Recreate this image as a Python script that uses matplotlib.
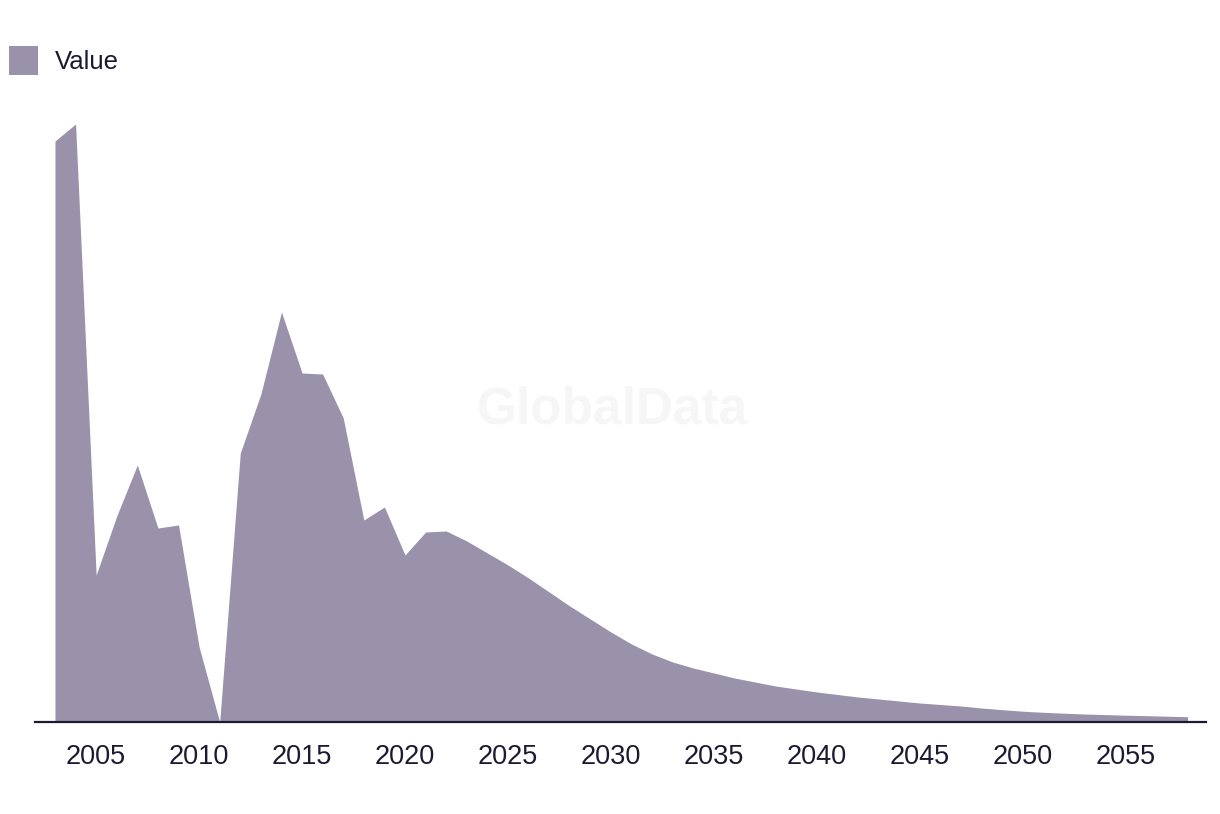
from matplotlib import pyplot as plt
from matplotlib.patches import Patch
import numpy as np

# Data (no y axis shown, values are relative heights)
years = np.arange(2003, 2059)
values = [
    581, 598, 147, 206, 257, 194, 197, 75, 0, 269,
    328, 410, 349, 348, 304, 202, 215, 167, 190, 191,
    181, 169, 157, 144, 130, 116, 103, 90, 78, 68,
    60, 54, 49, 44, 40, 36, 33, 30, 27.5, 25,
    23, 21, 19, 17.5, 16, 14, 12.3, 10.8, 9.7, 8.8,
    8.0, 7.4, 6.8, 6.3, 5.8, 5.3,
]
tick_years = list(range(2005, 2060, 5))
series_name = "Value"

fill_color = "#9a92aa"
text_color = "#1c1a30"


def main():
    plt.rcParams["font.family"] = ["Liberation Sans", "DejaVu Sans"]

    fig = plt.figure(figsize=(12.2, 8.14), dpi=100)
    ax = fig.add_axes([35 / 1220, 92 / 814, 1171 / 1220, 622 / 814])

    ax.fill_between(years, values, 0, color=fill_color, linewidth=0)

    ax.set_xlim(2002.03, 2058.9)
    ax.set_ylim(0, 622)

    # Only the bottom axis line is visible
    for side in ["left", "right", "top"]:
        ax.spines[side].set_visible(False)
    ax.spines["bottom"].set_color(text_color)
    ax.spines["bottom"].set_linewidth(1.6)
    ax.set_yticks([])
    ax.set_xticks(tick_years)
    ax.set_xticklabels([str(y) for y in tick_years])
    ax.tick_params(axis="x", length=0, pad=15.5, labelsize=19.5, labelcolor=text_color)

    # Faint watermark
    fig.text(0.502, 0.496, "GlobalData", ha="center", va="center",
             fontsize=37, fontweight="bold", color="#f6f6f6", zorder=0)

    # Legend at the top left
    handle = Patch(facecolor=fill_color, edgecolor="none")
    fig.legend([handle], [series_name], loc="upper left",
               bbox_to_anchor=(-0.007, 0.966), frameon=False,
               fontsize=18.5, labelcolor=text_color,
               handlelength=1.1, handleheight=1.35, handletextpad=0.65,
               borderaxespad=0.3)

    fig.savefig("out.png", dpi=100)


if __name__ == "__main__":
    main()
